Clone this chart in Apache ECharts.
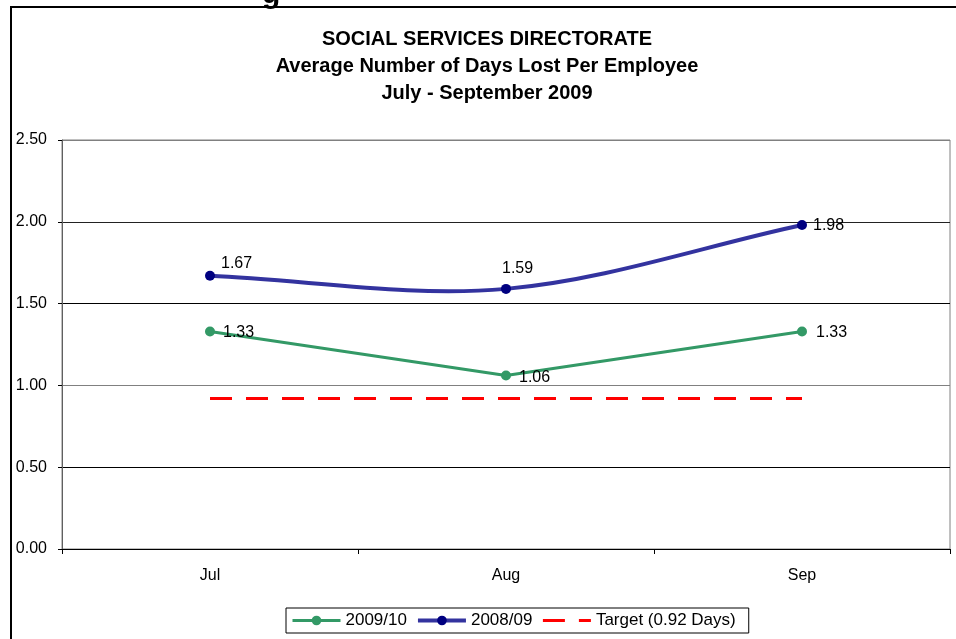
<!DOCTYPE html>
<html>
<head>
<meta charset="utf-8">
<script src="https://cdn.jsdelivr.net/npm/echarts@6/dist/echarts.min.js"></script>
<style>
  html, body { margin: 0; padding: 0; background: #fff; }
  #chart { width: 956px; height: 639px; }
</style>
</head>
<body>
<div id="chart"></div>
<script>
// Months on the category axis
const months = ['Jul', 'Aug', 'Sep'];
// Average days lost per employee
const days200910 = [1.33, 1.06, 1.33];
const days200809 = [1.67, 1.59, 1.98];
const targetDays = [0.92, 0.92, 0.92];
// Value axis
const yMin = 0, yMax = 2.5, yStep = 0.5;

const FONT = 'Liberation Sans, Arial, sans-serif';
const BODY = 16;
const NAVY_LINE = '#33339f';

// Per-point label placement for each series
const offsets0910 = [[3, 1], [3, 2], [4, 1]];
const offsets0809 = [[1, -12], [-14, -20], [1, 1]];

function labelled(values, offsets) {
  return values.map((v, i) => ({
    value: v,
    label: { show: true, position: 'right', offset: offsets[i] }
  }));
}

// Smoothed curve through the 2008/09 points (cardinal spline, tangents = (next - prev) / 6,
// end tangents = (neighbour - point) / 3), drawn once through the cartesian coordinates.
function renderSmooth(params, api) {
  if (params.dataIndex !== 0) return null;
  const p = days200809.map((v, i) => api.coord([i, v]));
  const n = p.length;
  const tan = p.map((pt, i) => {
    if (i === 0) return [(p[1][0] - pt[0]) / 3, (p[1][1] - pt[1]) / 3];
    if (i === n - 1) return [(pt[0] - p[i - 1][0]) / 3, (pt[1] - p[i - 1][1]) / 3];
    return [(p[i + 1][0] - p[i - 1][0]) / 6, (p[i + 1][1] - p[i - 1][1]) / 6];
  });
  const children = [];
  for (let i = 0; i < n - 1; i++) {
    children.push({
      type: 'bezierCurve',
      shape: {
        x1: p[i][0], y1: p[i][1],
        cpx1: p[i][0] + tan[i][0], cpy1: p[i][1] + tan[i][1],
        cpx2: p[i + 1][0] - tan[i + 1][0], cpy2: p[i + 1][1] - tan[i + 1][1],
        x2: p[i + 1][0], y2: p[i + 1][1]
      },
      style: { stroke: NAVY_LINE, lineWidth: 4, fill: null, lineCap: 'round' }
    });
  }
  return { type: 'group', children };
}

const chart = echarts.init(document.getElementById('chart'), null, { renderer: 'canvas' });

chart.setOption({
  animation: false,
  backgroundColor: '#fff',
  textStyle: { fontFamily: FONT },
  title: {
    text: 'SOCIAL SERVICES DIRECTORATE\nAverage Number of Days Lost Per Employee\nJuly - September 2009',
    left: 487,
    textAlign: 'center',
    top: 26,
    padding: 0,
    textStyle: { fontFamily: FONT, fontSize: 20, fontWeight: 'bold', color: '#000', lineHeight: 27 }
  },
  graphic: [
    {
      type: 'rect',
      shape: { x: 11, y: 7, width: 1000, height: 700 },
      style: { fill: 'none', stroke: '#000', lineWidth: 2 },
      silent: true
    },
    {
      type: 'text',
      x: 262, y: -20,
      style: { text: 'g', font: 'bold 30px ' + FONT, fill: '#000', textBaseline: 'alphabetic' },
      silent: true
    }
  ],
  legend: {
    left: 286,
    top: 608,
    itemWidth: 48,
    itemHeight: 12,
    itemGap: 9,
    padding: [4, 13, 4, 5],
    borderColor: '#000',
    borderWidth: 1,
    textStyle: { fontFamily: FONT, fontSize: 17, color: '#000' },
    data: [
      { name: '2009/10', lineStyle: { width: 3 } },
      { name: '2008/09', lineStyle: { width: 4, color: NAVY_LINE, opacity: 1 } },
      { name: 'Target (0.92 Days)', lineStyle: { width: 3 }, itemStyle: { color: 'rgba(0,0,0,0)', opacity: 0 } }
    ]
  },
  grid: { left: 62, right: 6, top: 140, bottom: 90, show: true, borderColor: '#808080', borderWidth: 1, containLabel: false },
  xAxis: {
    type: 'category',
    data: months,
    boundaryGap: true,
    axisLine: { lineStyle: { color: '#000', width: 1 } },
    axisTick: { show: true, length: 5, alignWithLabel: false, lineStyle: { color: '#000' } },
    axisLabel: { fontFamily: FONT, fontSize: BODY, color: '#000', margin: 19 }
  },
  yAxis: {
    type: 'value',
    min: yMin, max: yMax, interval: yStep,
    axisLine: { show: true, lineStyle: { color: '#606060', width: 1 } },
    axisTick: { show: true, length: 4, lineStyle: { color: '#000' } },
    axisLabel: {
      fontFamily: FONT, fontSize: BODY, color: '#000', margin: 15,
      formatter: v => v.toFixed(2)
    },
    splitLine: { show: true, lineStyle: { color: ['#000', '#000', '#808080', '#000', '#222', '#808080'], width: 1 } }
  },
  series: [
    {
      name: '2009/10',
      type: 'line',
      data: labelled(days200910, offsets0910),
      color: '#339966',
      symbol: 'circle',
      symbolSize: 10,
      lineStyle: { color: '#339966', width: 3 },
      itemStyle: { color: '#339966' },
      label: { color: '#000', fontFamily: FONT, fontSize: BODY },
      z: 3
    },
    {
      name: 'curve0809',
      type: 'custom',
      coordinateSystem: 'cartesian2d',
      data: days200809.map((v, i) => [i, v]),
      renderItem: renderSmooth,
      silent: true,
      z: 3
    },
    {
      name: '2008/09',
      type: 'line',
      data: labelled(days200809, offsets0809),
      color: '#000080',
      symbol: 'circle',
      symbolSize: 10,
      lineStyle: { color: NAVY_LINE, width: 4, opacity: 0 },
      itemStyle: { color: '#000080' },
      label: { color: '#000', fontFamily: FONT, fontSize: BODY },
      z: 4
    },
    {
      name: 'Target (0.92 Days)',
      type: 'line',
      data: targetDays,
      color: '#ff0000',
      symbol: 'none',
      lineStyle: { color: '#ff0000', width: 3, type: [22, 14] },
      z: 2
    }
  ]
});
</script>
</body>
</html>
